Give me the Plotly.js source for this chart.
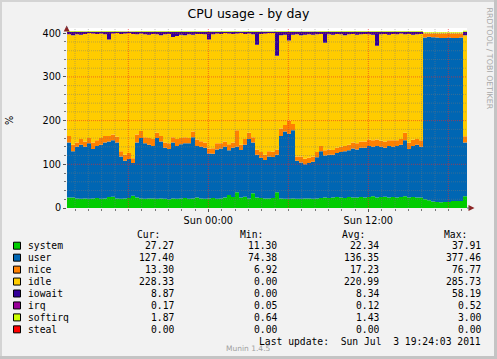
<!DOCTYPE html>
<html><head><meta charset="utf-8">
<script src="https://cdn.plot.ly/plotly-3.0.1.min.js"></script>
<style>html,body{margin:0;padding:0;background:#F2F2F2;}#chart{width:497px;height:359px;}</style>
</head><body><div id="chart"></div>
<script>
// ---- DATA ----
const seriesNames = ['system','user','nice','idle','iowait','irq','softirq','steal'];
const seriesColors = ['#00CC00','#0066B3','#FF8000','#FFCC00','#330099','#990099','#CCFF00','#FF0000'];
const startTimeUTC = Date.UTC(2011, 6, 2, 13, 24);   // Sat 13:24
const stepMinutes = 18;

const system = [24,24,22,21,22,21,22,23,21,22, 25,26,22,21,22,23,28,24,22,21,
  22,22,21,22,21,20,22,21,22,23, 21,22,24,22,21,22,23,21,22,24,
  30,25,36,24,26,22,34,24,23,22, 22,23,36,22,21,21,22,21,21,22,
  22,21,22,23,24,23,24,25,24,23, 25,24,24,25,24,25,27,24,25,26,
  24,25,24,25,27,24,25,24,24,20, 18,15,14,13,14,14,16,16,16,27, 27.27];
const user = [126,106,118,124,118,127,113,119,124,128, 127,129,128,97,86,89,75,126,138,127,
  123,120,139,130,117,115,128,121,124,125, 127,140,118,118,117,103,101,113,114,116,
  102,113,104,109,119,136,116,98,92,88, 96,94,86,143,154,149,156,87,83,78,
  81,85,94,107,96,99,98,101,104,107, 107,112,110,113,114,117,113,118,115,112,
  118,115,118,120,128,111,117,121,116,370, 374,376,376,376,375,376,373,373,374,123, 127.40];
const nice = [15,15,10,13,12,12,15,13,15,15, 13,13,13,12,14,14,11,18,16,14,
  15,16,12,13,12,13,12,16,14,14, 12,13,15,13,12,11,13,14,12,12,
  14,12,38,12,13,14,12,12,13,12, 12,12,12,17,15,30,14,10,14,13,
  12,12,12,12,12,12,11,12,12,12, 13,14,14,14,14,14,15,15,14,14,
  13,15,13,13,17,15,14,13,15,9, 7,8,9,10,10,9,10,10,9,14, 13.30];
const idle = [232.5,250.5,247.5,238.5,246.5,240.5,249.5,243.5,239.5,232.5,
  220.5,231.5,237.5,268.5,277.5,274.5,284.5,229.5,223.5,235.5,
  236.5,240.5,225.5,230.5,247.5,250.5,229.5,235.5,236.5,233.5,
  237.5,221.5,241.5,245.5,247.5,249.5,260.5,251.5,250.5,248.5,
  253.5,248.5,221.5,255.5,240.5,227.5,235.5,239.5,270.5,277.5,
  270.5,271.5,214.5,213.5,206.5,183.5,204.5,279.5,277.5,283.5,
  282.5,278.5,269.5,256.5,246.5,263.5,263.5,260.5,257.5,253.5,
  252.5,248.5,248.5,245.5,246.5,241.5,241.5,214.5,243.5,246.5,
  241.5,243.5,242.5,241.5,225.5,248.5,240.5,239.5,243.5,0,
  0,0,0,0,0,0,0,0,0,231.5, 228.33];
const iowait = [6,8,6,7,5,3,4,5,4,6, 18,4,3,5,4,3,5,6,4,6,
  7,5,6,8,6,5,12,10,7,8, 6,7,5,5,6,18,6,4,5,3,
  4,5,4,3,5,4,6,30,5,4, 3,3,55,8,7,20,7,6,8,7,
  6,7,6,5,25,6,7,5,6,8, 6,5,7,6,5,6,7,32,6,5,
  7,5,6,4,6,5,7,6,5,0, 0,0,0,0,0,0,0,0,0,8, 8.87];
const irq = [0.1,0.1,0.12,0.1,0.1,0.12,0.1,0.1,0.1,0.12, 0.1,0.1,0.1,0.12,0.1,0.1,0.1,0.1,0.12,0.1,
  0.1,0.1,0.12,0.1,0.1,0.1,0.1,0.12,0.1,0.1, 0.1,0.12,0.1,0.1,0.1,0.1,0.12,0.1,0.1,0.1,
  0.12,0.1,0.1,0.1,0.1,0.12,0.1,0.1,0.1,0.1, 0.1,0.12,0.1,0.1,0.1,0.1,0.12,0.1,0.1,0.1,
  0.1,0.1,0.12,0.1,0.1,0.1,0.1,0.12,0.1,0.1, 0.12,0.1,0.1,0.1,0.1,0.12,0.1,0.1,0.1,0.1,
  0.1,0.12,0.1,0.1,0.1,0.1,0.12,0.1,0.1,0.3, 0.3,0.4,0.3,0.3,0.5,0.3,0.3,0.4,0.3,0.15, 0.17];
const softirq = [1.4,1.3,1.5,1.4,1.2,1.4,1.5,1.3,1.4,1.4, 1.6,1.4,1.3,1.2,1.1,1.2,1.0,1.5,1.5,1.4,
  1.4,1.3,1.5,1.4,1.3,1.4,1.5,1.4,1.3,1.4, 1.4,1.5,1.3,1.4,1.3,1.4,1.2,1.4,1.3,1.4,
  1.4,1.3,1.5,1.2,1.4,1.5,1.4,1.3,1.2,1.1, 1.2,1.2,1.3,1.6,1.7,1.6,1.7,1.1,1.0,1.0,
  1.1,1.1,1.2,1.3,1.3,1.3,1.3,1.3,1.4,1.4, 1.4,1.4,1.4,1.4,1.4,1.4,1.5,1.4,1.4,1.4,
  1.4,1.4,1.4,1.4,1.5,1.4,1.4,1.4,1.4,2.8, 2.9,3.0,2.9,2.8,2.9,2.8,2.9,2.8,2.8,1.8, 1.87];
const steal = [0,0,0,0,0,0,0,0,0,0, 0,0,0,0,0,0,0,0,0,0, 0,0,0,0,0,0,0,0,0,0,
  0,0,0,0,0,0,0,0,0,0, 0,0,0,0,0,0,0,0,0,0, 0,0,0,0,0,0,0,0,0,0,
  0,0,0,0,0,0,0,0,0,0, 0,0,0,0,0,0,0,0,0,0, 0,0,0,0,0,0,0,0,0,0,
  0,0,0,0,0,0,0,0,0,0, 0];

const curVals = ['27.27','127.40','13.30','228.33','8.87','0.17','1.87','0.00'];
const minVals = ['11.30','74.38','6.92','0.00','0.00','0.05','0.64','0.00'];
const avgVals = ['22.34','136.35','17.23','220.99','8.34','0.12','1.43','0.00'];
const maxVals = ['37.91','377.46','76.77','285.73','58.19','0.52','3.00','0.00'];
const colHeaders = ['Cur:','Min:','Avg:','Max:'];
const xTickVals = ['2011-07-03 00:00','2011-07-03 12:00'];
const xTickText = ['Sun 00:00','Sun 12:00'];
const yTickVals = [0,100,200,300,400];
const titleText = 'CPU usage - by day';
const lastUpdate = 'Last update:  Sun Jul  3 19:24:03 2011';
const versionText = 'Munin 1.4.5';
const sideText = 'RRDTOOL / TOBI OETIKER';

// ---- BUILD ----
const seriesData = [system,user,nice,idle,iowait,irq,softirq,steal];
function fmt(ms){const d=new Date(ms);const p=n=>String(n).padStart(2,'0');
  return d.getUTCFullYear()+'-'+p(d.getUTCMonth()+1)+'-'+p(d.getUTCDate())+' '+p(d.getUTCHours())+':'+p(d.getUTCMinutes());}
const times = system.map((_,i)=>fmt(startTimeUTC + i*stepMinutes*60000));
const xStart = fmt(startTimeUTC), xEnd = fmt(startTimeUTC + 30*3600000);

const traces = seriesNames.map((n,k)=>({
  type:'scatter', x:times, y:seriesData[k], name:n, mode:'lines', stackgroup:'one',
  line:{width:0, shape:'hv', color:seriesColors[k]}, fillcolor:seriesColors[k],
  hoverinfo:'skip', showlegend:false
}));

const W=497, H=359, L=67, R=467, T=28, B=208;
const px = v => (v-L)/(R-L);
const py = v => (B-v)/(B-T);
const mono = 'DejaVu Sans Mono', sans = 'DejaVu Sans';
const nb = s => s.replace(/ /g,'\u00A0');

const shapes = [];
for (let h=1; h<30; h++){
  const ms = startTimeUTC + 36*60000 + (h-1)*3600000;
  const hr = new Date(ms).getUTCHours();
  const major = hr % 6 === 0;
  shapes.push({type:'line', xref:'x', yref:'paper', x0:fmt(ms), x1:fmt(ms), y0:0, y1:1,
    line:{color: major?'rgba(235,40,40,0.6)':'rgba(120,120,120,0.45)', width:1, dash:'1px,1px'}});
}
for (let v=20; v<=400; v+=20){
  const major = v % 100 === 0;
  shapes.push({type:'line', xref:'paper', yref:'y', x0:0, x1:1, y0:v, y1:v,
    line:{color: major?'rgba(235,40,40,0.6)':'rgba(120,120,120,0.45)', width:1, dash:'1px,1px'}});
}
shapes.push({type:'path', xref:'paper', yref:'paper',
  path:`M ${px(63.7)},${py(31.5)} L ${px(66.7)},${py(25.5)} L ${px(69.7)},${py(31.5)} Z`,
  fillcolor:'#8B2525', line:{width:0}});
shapes.push({type:'path', xref:'paper', yref:'paper',
  path:`M ${px(468.5)},${py(205)} L ${px(474.5)},${py(208)} L ${px(468.5)},${py(211)} Z`,
  fillcolor:'#8B2525', line:{width:0}});
shapes.push({type:'line', xref:'paper', yref:'paper', x0:px(L), x1:px(L), y0:1, y1:py(27),
  line:{color:'#5a5a7a', width:1}});
shapes.push({type:'line', xref:'paper', yref:'paper', x0:1, x1:px(470), y0:0, y1:0,
  line:{color:'#5a5a7a', width:1}});
shapes.push({type:'rect', xref:'paper', yref:'paper', x0:px(0), x1:px(W), y0:py(0), y1:py(2), fillcolor:'#D4D4D4', line:{width:0}});
shapes.push({type:'rect', xref:'paper', yref:'paper', x0:px(0), x1:px(2), y0:py(0), y1:py(H), fillcolor:'#D4D4D4', line:{width:0}});
shapes.push({type:'rect', xref:'paper', yref:'paper', x0:px(W-3), x1:px(W), y0:py(0), y1:py(H), fillcolor:'#C4C4C4', line:{width:0}});
shapes.push({type:'rect', xref:'paper', yref:'paper', x0:px(0), x1:px(W), y0:py(H-3), y1:py(H), fillcolor:'#C4C4C4', line:{width:0}});

const annotations = [];
const rowY = k => 245.7 + k*11.95;
const valRight = [176, 279.3, 381, 483.3];
const hdrRight = [162, 265.3, 367, 469.3];
colHeaders.forEach((h,c)=>annotations.push({xref:'paper', yref:'paper', x:px(hdrRight[c]), y:py(234),
  xanchor:'right', yanchor:'middle', text:h, showarrow:false, font:{family:mono, size:9.7, color:'#000'}}));
seriesNames.forEach((n,k)=>{
  const y = rowY(k);
  shapes.push({type:'rect', xref:'paper', yref:'paper', x0:px(13.5), x1:px(20.5), y0:py(y-3.5), y1:py(y+3.5),
    fillcolor:seriesColors[k], line:{color:'#000', width:1}});
  annotations.push({xref:'paper', yref:'paper', x:px(26), y:py(y), xanchor:'left', yanchor:'middle',
    text:n, showarrow:false, font:{family:mono, size:9.7, color:'#000'}});
  [curVals,minVals,avgVals,maxVals].forEach((arr,c)=>annotations.push({xref:'paper', yref:'paper',
    x:px(valRight[c]), y:py(y), xanchor:'right', yanchor:'middle', text:arr[k], showarrow:false,
    font:{family:mono, size:9.7, color:'#000'}}));
});
annotations.push({xref:'paper', yref:'paper', x:px(483.3), y:py(341), xanchor:'right', yanchor:'middle',
  text:nb(lastUpdate), showarrow:false, font:{family:mono, size:9.7, color:'#000'}});
annotations.push({xref:'paper', yref:'paper', x:px(248), y:py(348.5), xanchor:'center', yanchor:'middle',
  text:versionText, showarrow:false, font:{family:sans, size:7.5, color:'#A0A0A0'}});
annotations.push({xref:'paper', yref:'paper', x:px(488.5), y:py(58), xanchor:'center', yanchor:'middle',
  text:sideText, textangle:90, showarrow:false, font:{family:sans, size:7.9, color:'#A8A8A8'}});
annotations.push({xref:'paper', yref:'paper', x:px(10), y:py(121), xanchor:'center', yanchor:'middle',
  text:'%', textangle:-90, showarrow:false, font:{family:sans, size:9.7, color:'#000'}});

const layout = {
  width:W, height:H, margin:{l:L, r:W-R, t:T, b:H-B, pad:0},
  paper_bgcolor:'#F2F2F2', plot_bgcolor:'#FFFFFF',
  title:{text:titleText, x:0.5, xref:'container', xanchor:'center', y:1-14/H, yref:'container', yanchor:'middle',
    font:{family:sans, size:12.5, color:'#000'}},
  xaxis:{type:'date', range:[xStart, xEnd], showgrid:false, zeroline:false, showline:false,
    tickmode:'array', tickvals:xTickVals, ticktext:xTickText, ticks:'outside', ticklen:3, tickcolor:'#555',
    tickfont:{family:sans, size:9.7, color:'#000'},
    minor:{ticks:'outside', ticklen:2, tickcolor:'#777', dtick:3600000, tick0:'2011-07-02 14:00', showgrid:false},
    fixedrange:true},
  yaxis:{range:[0,412], showgrid:false, zeroline:false, showline:false,
    tickmode:'array', tickvals:yTickVals, ticks:'outside', ticklen:3, tickcolor:'#555',
    tickfont:{family:sans, size:9.7, color:'#000'},
    minor:{ticks:'outside', ticklen:2, tickcolor:'#777', dtick:20, tick0:0, showgrid:false},
    fixedrange:true},
  shapes:shapes, annotations:annotations, showlegend:false
};
Plotly.newPlot('chart', traces, layout, {staticPlot:true, displayModeBar:false});
</script></body></html>
